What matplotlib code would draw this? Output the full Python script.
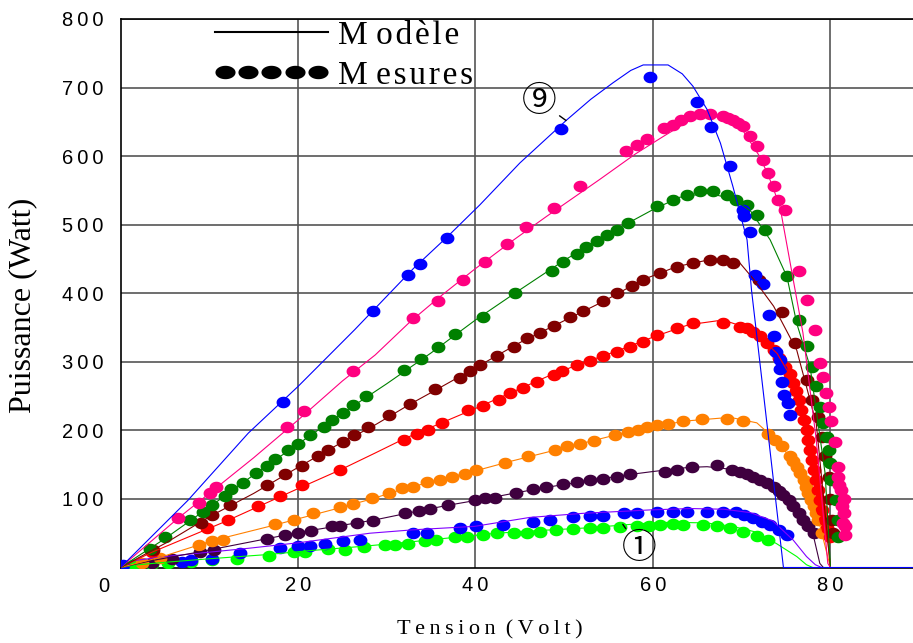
import matplotlib
matplotlib.use('Agg')
import matplotlib.pyplot as plt
from matplotlib.lines import Line2D
from matplotlib.legend_handler import HandlerLine2D
import numpy as np

# model curves (V, P)
mod1 = [(0, 0), (2, 4), (5.4, 8), (10.3, 13), (16.7, 19), (20.8, 24), (27.4, 31), (32.4, 37), (37.7, 44),
        (42.4, 50), (47.3, 54), (52.9, 58), (58.5, 64), (62, 66), (66, 65), (69, 60), (71.5, 52), (73.9, 35),
        (76.2, 16), (77.3, 4), (78, 0)]
mod2 = [(0, 0), (1.5, 10), (5, 16), (14.4, 28), (20, 36), (28.1, 50), (33, 55), (39.9, 60), (46.1, 73),
        (52.1, 79), (59.7, 84), (64.2, 86), (68, 85), (71, 80), (73.5, 68), (75.8, 40), (77.3, 16), (78.3, 4), (79, 0)]
mod3 = [(0, 0), (3.5, 10), (9, 23), (16.5, 42), (20, 51), (24.7, 61), (28.5, 69), (33, 81), (37, 91), (41, 100),
        (45, 110), (49, 119), (53, 127), (57, 135), (60, 140), (64, 146), (66.1, 147), (69, 143), (72, 130),
        (74.7, 106), (76.9, 72), (78.1, 45), (78.8, 6), (79.2, 0)]
mod4 = [(0, 0), (4.5, 15), (10.3, 39), (17.4, 62), (20, 71), (24.7, 87), (28.3, 100), (32, 115), (36, 128),
        (40, 141), (44, 155), (48, 168), (52, 181), (56, 194), (60, 206), (64, 214), (68.7, 219), (71.7, 211),
        (73, 196), (75, 168), (77, 128), (78.6, 72), (80, 0)]
mod5 = [(0, 0), (3.5, 22), (11.8, 67), (20, 115), (24.7, 142), (28.7, 167), (32, 188), (36, 210), (40, 232),
        (44, 255), (48, 278), (52, 298), (56, 316), (60, 336), (64, 354), (67.9, 361), (70, 352), (72, 337),
        (74, 312), (76, 268), (78, 180), (79.2, 100), (80, 0)]
mod6 = [(0, 0), (5, 35), (10, 74), (15, 108), (20, 146), (25, 183), (28.3, 205), (32.6, 238), (35.4, 258),
        (40.5, 295), (45, 328), (50, 360), (54.4, 388), (58.9, 420), (62.7, 439), (66.4, 449), (68, 449),
        (69.8, 444), (71.5, 418), (73.6, 381), (76.2, 317), (78.4, 210), (80, 0)]
mod7 = [(0, 0), (5, 42), (10, 88), (15, 135), (20, 180), (25, 225), (30, 268), (35, 313), (40, 361), (45, 405),
        (50, 448), (55, 487), (60, 522), (63, 540), (66.1, 546), (69, 538), (71, 520), (73.2, 478), (75.1, 424),
        (76.2, 356), (77.7, 293), (79.4, 137), (80, 0)]
mod8 = [(0, 0), (6.5, 72), (10, 108), (15, 160), (20, 215), (25, 272), (28.7, 310), (32.6, 358), (36, 395),
        (39.8, 434), (44, 475), (48, 512), (54, 566), (58, 603), (61.2, 629), (64.9, 658), (67.5, 657), (70, 640),
        (72, 600), (73, 572), (74.3, 527), (75.8, 420), (76.9, 342), (78.4, 186), (79.7, 6), (80, 0)]
mod9 = [(0, 0), (7.6, 98), (14.4, 196), (20, 264), (26.4, 347), (33, 436), (36.8, 482), (40.5, 529), (45, 590),
        (50.3, 653), (53, 683), (55.5, 707), (57.5, 725), (58.9, 733), (61.7, 733), (63.3, 720), (64.5, 702),
        (66.1, 668), (67.6, 619), (69, 556), (70.6, 478), (71.1, 405), (72.6, 237), (74.7, 0), (89.3, 0)]

# measured points (V, P)
mes1 = [(1.5, 3), (3.5, 5), (5.4, 6), (8.0, 8.5), (10.3, 11), (13.1, 13), (16.7, 17), (19.5, 22), (20.8, 23),
        (23.4, 26.5), (25.3, 25.5), (27.4, 30), (29.8, 33), (30.9, 33), (32.4, 35), (34.3, 38), (35.6, 40),
        (37.7, 44), (39.0, 45), (40.9, 47), (42.4, 50), (44.3, 50), (45.8, 50), (47.3, 52), (49.1, 55), (51.0, 56),
        (52.9, 57), (54.4, 57), (56.3, 59), (58.2, 60), (59.5, 61), (60.8, 62), (62.3, 63.5), (63.4, 62),
        (65.6, 62), (67.2, 60), (68.7, 57), (70.2, 52), (71.7, 46), (73.0, 40)]
mes2 = [(6.9, 8.5), (8.0, 11), (10.3, 13), (13.5, 21), (18.0, 28), (20.0, 31), (21.4, 31), (23.0, 34),
        (25.1, 38), (27.0, 40), (33.0, 50), (34.5, 50), (38.3, 57), (40.1, 60), (43.1, 62), (46.5, 67), (48.4, 69),
        (51.0, 73), (52.9, 75), (54.4, 75), (56.7, 79), (58.2, 80), (60.4, 81.5), (62.3, 81.5), (63.8, 81.5),
        (66.1, 81.5), (67.9, 81.5), (69.4, 81), (70.3, 77), (71.3, 72), (72.3, 67), (73.2, 62), (74.2, 55),
        (75.1, 47)]
mes3 = [(3.5, 6), (5.8, 12), (9.0, 22), (10.5, 25.5), (16.5, 41), (18.5, 47), (20.0, 51), (21.5, 53),
        (23.8, 60), (24.7, 60), (26.6, 65), (28.5, 68), (32.1, 79), (33.6, 83), (34.9, 85), (36.9, 91),
        (39.9, 98.5), (41.1, 101), (42.2, 101), (44.6, 108), (46.5, 114), (48.0, 117), (49.9, 122), (51.4, 124),
        (52.9, 127), (54.4, 129), (55.9, 132.5), (57.4, 136.5), (61.4, 140), (62.7, 142), (64.4, 146),
        (67.2, 150), (68.9, 142), (69.8, 140), (70.6, 136.5), (71.3, 132), (72.1, 128), (72.9, 123), (73.6, 118),
        (74.2, 112), (74.7, 106), (75.3, 98), (75.8, 89), (76.4, 79), (76.9, 69), (77.5, 60), (78.1, 50)]
mes4 = [(0.1, 0), (2.4, 6), (4.5, 14), (8.8, 33), (10.3, 38), (11.6, 40), (17.4, 63), (19.5, 69), (21.7, 79),
        (24.7, 88), (26.2, 92), (28.3, 101), (30.2, 108), (31.7, 116), (33.0, 118), (34.5, 124), (36.0, 128),
        (37.3, 132.5), (38.8, 136.5), (40.1, 142), (43.3, 153), (45.9, 163), (49.0, 171.5), (50.3, 177),
        (51.8, 180), (53.3, 184), (55.7, 193), (57.2, 197), (58.3, 200), (59.3, 205.5), (60.4, 208),
        (61.7, 209.5), (63.4, 214), (65.5, 216), (68.3, 216), (70.2, 214), (73.0, 194), (73.8, 186), (74.5, 177),
        (75.4, 162), (75.8, 155), (76.2, 147), (76.6, 138), (77.0, 128), (77.2, 118), (77.5, 108), (77.8, 98),
        (78.1, 89), (78.4, 79), (78.6, 69), (79.1, 50)]
mes5 = [(3.5, 23), (9.7, 57), (12.1, 69), (15.5, 89), (18.0, 104), (20.4, 120), (24.7, 142), (31.9, 186),
        (33.4, 195), (34.7, 201), (36.2, 210.5), (39.2, 229), (40.9, 235), (42.6, 244.5), (43.9, 254),
        (45.4, 261.5), (46.9, 271), (48.8, 281), (49.7, 286), (51.4, 295.5), (52.9, 300.5), (54.4, 308),
        (55.9, 315), (57.4, 322), (58.9, 329.6), (60.4, 339), (62.7, 349), (64.5, 356.5), (67.9, 356.5),
        (69.8, 350.5), (70.6, 349), (71.3, 344), (72.1, 337), (72.9, 328), (73.6, 317.5), (74.2, 306),
        (74.9, 293), (75.4, 282), (75.8, 269), (76.1, 257), (76.4, 244.5), (76.7, 230), (77.0, 215), (77.3, 200),
        (77.5, 186), (77.7, 172), (77.9, 157), (78.2, 142), (78.4, 128), (78.6, 113), (78.8, 98.5), (79.1, 84),
        (79.4, 69), (79.6, 57), (79.9, 45)]
mes6 = [(3.7, 25.5), (9.1, 65), (10.3, 76.6), (12.3, 91), (16.5, 120), (18.5, 136.5), (20.4, 148.6),
        (22.3, 162), (23.4, 171.5), (25.1, 183.6), (26.3, 193), (27.9, 205.5), (30.2, 222.6), (32.6, 238.7),
        (35.4, 260), (38.3, 276), (39.4, 287), (40.5, 295.6), (42.4, 308), (44.3, 322), (45.8, 334.6), (47.3, 342),
        (48.8, 352.6), (50.6, 366), (52.1, 373.4), (54.4, 388), (55.9, 400), (57.6, 410), (58.9, 419.7),
        (60.8, 429.5), (62.7, 439), (64.5, 444), (66.4, 449), (67.9, 449), (69.0, 444), (72.0, 420), (74.5, 373),
        (76.0, 327), (77.3, 274), (77.9, 244.5), (78.6, 220), (79.0, 191), (79.4, 162), (79.8, 132.5),
        (80.0, 100), (80.2, 70), (80.3, 50)]
mes7 = [(3.3, 26.6), (5.0, 44), (7.8, 69), (9.3, 81.5), (10.3, 91), (11.8, 104), (12.5, 114), (13.8, 123),
        (15.3, 138), (16.5, 148), (17.4, 158), (18.9, 171.5), (20.0, 180), (21.4, 193), (22.9, 205.5), (23.8, 215),
        (25.1, 225), (26.2, 237), (27.7, 250), (31.9, 288), (33.9, 304), (35.8, 321.5), (37.7, 340), (40.9, 365),
        (44.5, 400), (48.6, 433), (49.9, 446), (51.4, 457.7), (52.5, 467), (53.7, 475.6), (54.8, 485.4),
        (55.9, 492.7), (57.2, 502.5), (60.4, 526.7), (62.3, 536.5), (63.8, 543.8), (65.3, 548.6), (66.8, 548.6),
        (68.3, 543.8), (69.4, 536.5), (70.6, 529), (71.7, 514.6), (72.6, 492.7), (75.1, 424.5), (76.4, 361),
        (77.3, 323), (77.9, 293), (78.4, 264), (78.8, 234.7), (79.2, 210.5), (79.6, 191), (79.8, 171.5),
        (80.0, 152), (80.1, 128), (80.6, 98.5), (80.8, 69), (80.8, 45)]
mes8 = [(6.5, 72), (8.8, 94.6), (10.1, 108), (10.8, 117), (18.8, 205.5), (20.7, 228.5), (26.2, 286),
        (33.0, 363.8), (35.8, 388), (38.6, 419.7), (41.1, 445.5), (43.5, 471.8), (45.7, 496), (48.8, 525),
        (51.8, 557), (57.0, 608), (58.2, 616), (59.3, 625), (61.2, 641), (62.3, 646), (63.2, 652), (64.2, 658),
        (65.3, 661), (66.4, 662), (67.9, 658), (68.5, 656), (69.0, 653), (69.6, 649), (70.2, 643.5), (70.9, 629),
        (71.7, 614.3), (72.4, 595), (73.0, 575.5), (73.6, 556), (74.1, 536.5), (74.9, 522), (76.4, 432),
        (77.3, 390.5), (78.3, 346.7), (78.8, 298), (79.2, 278.5), (79.5, 254), (79.8, 234.7), (80.1, 213),
        (80.5, 183.6), (80.8, 147), (80.8, 132.5), (81.0, 120), (81.2, 113), (81.5, 100), (81.3, 89),
        (81.5, 80), (81.4, 64.5), (81.6, 60), (81.6, 47.4)]
mes9 = [(0.3, 4), (18.3, 241), (28.4, 374), (32.4, 426), (33.7, 443), (36.8, 480), (49.6, 640), (59.7, 716),
        (65.0, 679), (66.5, 642), (68.7, 585), (70.2, 522), (70.3, 512), (70.9, 490), (71.5, 427), (72.4, 414),
        (73.1, 369), (73.6, 337), (73.9, 315), (74.3, 303), (74.3, 290), (74.5, 270), (74.8, 251), (75.2, 240),
        (75.4, 223)]

models = [mod1, mod2, mod3, mod4, mod5, mod6, mod7, mod8, mod9]
mesures = [mes1, mes2, mes3, mes4, mes5, mes6, mes7, mes8, mes9]
dot_colors = ['#00ff00', '#0000ff', '#3f003f', '#ff8000', '#ff0000', '#800000', '#008000', '#ff0080', '#0000ff']
line_colors = ['#00ff00', '#8000ff', '#3f003f', '#ff8000', '#ff0000', '#800000', '#008000', '#ff0080', '#0000ff']

yticks = [100, 200, 300, 400, 500, 600, 700, 800]
xticks = [20, 40, 60, 80]

sp = '\u2009'
hsp = '\u200a'
serif = ['Liberation Serif', 'DejaVu Serif']
sans = ['Liberation Sans', 'DejaVu Sans']
circ = ['Noto Sans CJK JP', 'DejaVu Sans']

t = np.linspace(0, 2 * np.pi, 40)
ell = np.column_stack([1.2 * np.cos(t), np.sin(t)])
ell_leg = np.column_stack([1.5 * np.cos(t), np.sin(t)])

fig = plt.figure(figsize=(9.13, 6.43), dpi=100)
ax = fig.add_axes([120.5 / 913, 75.5 / 643, 792.5 / 913, 548.5 / 643])

for mes, c in zip(mesures, dot_colors):
    v, p = zip(*mes)
    ax.plot(v, p, linestyle='none', marker=ell, markersize=10, color=c, markeredgewidth=0, zorder=3)
for mod, c in zip(models, line_colors):
    v, p = zip(*mod)
    ax.plot(v, p, color=c, lw=0.8, zorder=4)

ax.set_xlim(0, 89.3)
ax.set_ylim(0, 800)
ax.set_xticks(xticks)
ax.set_yticks(yticks)
ax.set_xticklabels([sp.join(str(x)) for x in xticks], family=sans, fontsize=14.5)
ax.set_yticklabels([sp.join(str(y)) for y in yticks], family=sans, fontsize=14.5)
ax.tick_params(axis='y', length=0, pad=12)
ax.tick_params(axis='x', length=0, pad=6)
ax.grid(True, color='#555555', lw=1.2, zorder=1)
ax.set_axisbelow(True)
ax.spines['right'].set_visible(False)
for s in ['left', 'top', 'bottom']:
    ax.spines[s].set_linewidth(1.2)
ax.annotate('0', xy=(0, 0), xytext=(-12, -14), textcoords='offset points', ha='center', va='center',
            family=sans, fontsize=14.5)

ax.set_ylabel('Puissance (Watt)', family=serif, fontsize=23)
ax.yaxis.set_label_coords(-0.105, 0.477)
ax.set_xlabel(sp.join('Tension') + ' ' + sp + sp.join('(Volt)'), family=serif, fontsize=16)
ax.xaxis.set_label_coords(0.466, -0.096)

h_line = Line2D([], [], color='black', lw=1.5)
h_dots = Line2D([], [], color='black', linestyle='none', marker=ell_leg, markersize=14.5, markeredgewidth=0)
ax.legend([h_line, h_dots], ['M ' + hsp.join('odèle'), 'M ' + hsp.join('esures')], numpoints=5,
          handler_map={h_line: HandlerLine2D(marker_pad=0)},
          loc='upper left', bbox_to_anchor=(0.119, 0.998), frameon=False, borderpad=0, borderaxespad=0,
          handlelength=3.4, handletextpad=0.3, labelspacing=0.3, prop={'family': serif, 'size': 24})

ax.annotate('\u2468', xy=(50.2, 652), xytext=(47.2, 680), ha='center', va='center', fontsize=25,
            family=circ, arrowprops=dict(arrowstyle='-', color='black', lw=1, shrinkA=0, shrinkB=0), zorder=6)
ax.annotate('\u2460', xy=(56.6, 63), xytext=(58.5, 27), ha='center', va='center', fontsize=25,
            family=circ, arrowprops=dict(arrowstyle='-', color='black', lw=1, shrinkA=0, shrinkB=0), zorder=6)

fig.savefig('out.png', dpi=100)
